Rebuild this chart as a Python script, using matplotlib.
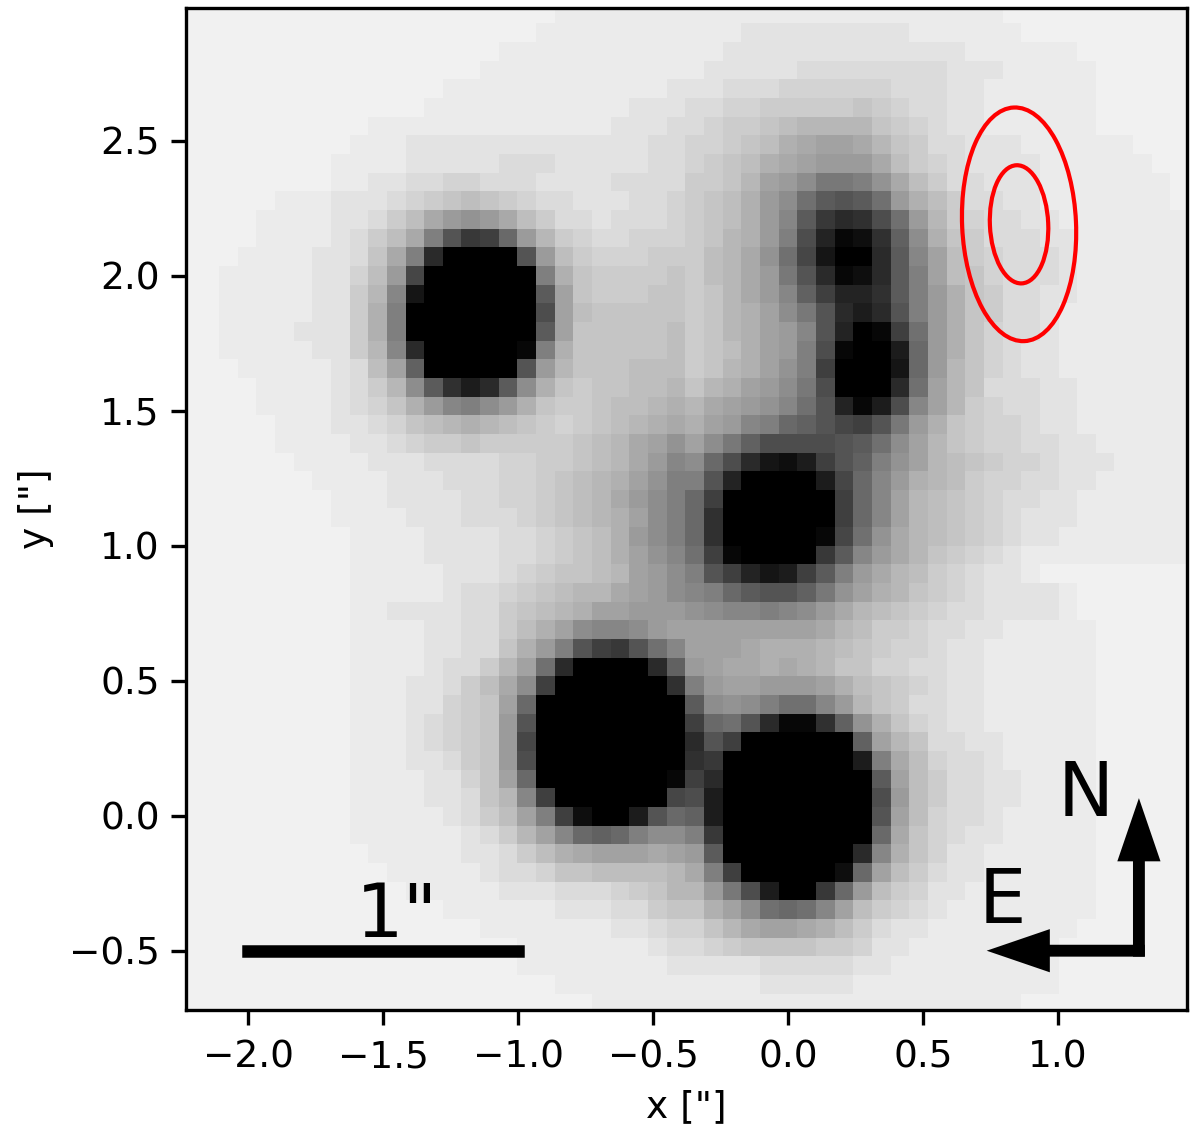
import numpy as np
from matplotlib import pyplot as plt
from matplotlib.patches import Ellipse

plt.rcParams['font.size'] = 9
plt.rcParams['ytick.major.pad'] = 2.8

# image cells, one char per cell, base 36
# cell code -> gray through these knots (light end squeezed a bit)
code_knots = [0, 30, 31, 32, 33, 34, 35]
gray_knots = [0, 211, 219, 228, 235, 241, 245]

left_rows = [
    "yyyyyyyyyyyyyyyyyyyyxxxxxxx",
    "yyyyyyyyyyyyyyyyyyyxxxxxxxx",
    "yyyyyyyyyyyyyyyyyxxxxxxxxxx",
    "yyyyyyyyyyyyyyyyxxxxxxxxxxx",
    "yyyyyyyyyyyyyyxxxxxxxxxxxxw",
    "yyyyyyyyyyyyyxxxxxxxxxxxwww",
    "yyyyyyyyyyxxxxxxxxxxxxxwwwv",
    "yyyyyyyyyxxxwwwwwwwwwwwwwvv",
    "yyyyyyyyxxxxwwwwwvvvwwwwwvv",
    "yyyyyyyyxxwwvvuuvvvwwwwvvvv",
    "yyyyyxxxwwwvutsrstuvvwwwvvu",
    "yyyyxxxxwwvtromlmortvvwvvvu",
    "yyyyxxxxwvtroic89fmqtuvvuuu",
    "yyyxxxxwwvsoi60000cmrtuuutt",
    "yyxxxxxwwurma000000ipstttts",
    "yyxxxxxwwtqj3000000dnstttss",
    "yyxxxxxwwtpi0000000bnrsssss",
    "yyxxxxwwwtpi0000000dnsssssr",
    "yyxxxxxwwtqj6000001ipsssssr",
    "yyyxxxxxwvrne00000cmqsssrrr",
    "yyyyxxxxwvtqkd746dkpstssrrq",
    "yyyyxxxxwvuspmjikmpsttsrrqp",
    "yyyyyxxxwwvusrqpqrstutsrqpo",
    "yyyyyxxxxwwvuttstttttsrqonl",
    "yyyyyyxxxxwwwvvvvuuttsrqomj",
    "yyyyyyyxxxxwwwvvvuutsrqpnli",
    "yyyyyyyyxxxwwwwvvuutsrqomki",
    "yyyyyyyyxxxxwwwvvvutsrqpnki",
    "yyyyyyyyyxxxxwwwwvvutsrpmki",
    "yyyyyyyyyxxxxwwwwvvutsrpnlj",
    "yyyyyyyyyxxxxxwwwvutssrqnmk",
    "yyyyyyyyyxxxxxwvvutsrqqonmk",
    "yyyyyyyyyxxwwwwvvtsrqpnnmmm",
    "yyyyyyyyyxxxxwwvvtrpnkjjkmn",
    "yyyyyyyyyxxxxwwvvspmic98cgj",
    "yyyyyyyyyxxxxwvvtqng600006e",
    "yyyyyyyyyxxxwwvtrok90000007",
    "yyyyyyyyyxxxwwutsnf00000000",
    "yyyyyyyyyxxxwvutsmc00000000",
    "yyyyyyyyyxxxwvutsma00000000",
    "yyyyyyyyyxxxwwvtsmb00000000",
    "yyyyyyyyyxxxxwwusnf00000001",
    "yyyyyyyyyxxxxwwvsqj9000000a",
    "yyyyyyyyyxxxxxwvtrni92004cf",
    "yyyyyyyyyxxxxxxwvtqnjfefikk",
    "yyyyyyyyyyxxxxxwwvtrponnnon",
    "yyyyyyyyyyyxxxxxwvvussrrrrq",
    "yyyyyyyyyyyyxxxxxwwwvvvutsq",
    "yyyyyyyyyyyyyyxxxxxxwwwvvts",
    "yyyyyyyyyyyyyyyyxxxxxxxwwvu",
    "yyyyyyyyyyyyyyyyyyxxxxxxxwv",
    "yyyyyyyyyyyyyyyyyyxxxxxxxxw",
    "yyyyyyyyyyyyyyyyyyyyxxxxxxx",
    "yyyyyyyyyyyyyyyyyyyyyyxxxxx",
]

right_rows = [
    "xxxxxxxxxxxxxxxxxyyyyyyyyyy",
    "xxxwwwwwwwwwxxxxxxyyyyyyyyy",
    "xxwwwwwwwwwwwwwxxxxxxyyyyyy",
    "xwwwwwvvvvvvvvwwwxxxxxyyyyy",
    "wwvvvuuuuuuvvvwwxxxxxxyyyyy",
    "vvuutttttstuvvwwxxxxxxyyyyy",
    "vuttsrqqqqstuvwwxxxxxxyyyyy",
    "uutsrponnoqstvvwwwxxxxxxyyy",
    "utsrponmmmortuvwwwwxxxxxxyy",
    "ttsqnmkhhilortvvwwwxxxxxxxy",
    "tsrpmkgdcdgmprtvvwwxxxxxxxy",
    "tsrpmjd867bgmqtuvvwwxxxxxxx",
    "tsqpmib5127ekpstvvvwwxxxxxx",
    "trqolga3006djnrtuvvvwxxxxxx",
    "trqomhc6126dinrsuvvvwxxxxxx",
    "tsqomje9557dimpstvvwwxxxxxx",
    "tsqpnkhc646cimpstvvwxxxxxxx",
    "tsqpnmjc5019gmpsuvvwxxxxxxx",
    "tsrpnmib1004fmpsuvwwxxxxxxx",
    "tsqpnli90003fmqsuvwwxxxxxxx",
    "sqpnmkhb0006gnqsvvvwwxxxxxx",
    "qonmljgc514bjnqtuvvwwxxxxxx",
    "pnmjifeca9chmpstuuvwwxxxxxx",
    "nkhebbbbcdgknqstuuvvwwxxxxx",
    "kfb63249ceilnqrstuuvwwwxxxx",
    "ic500004afjmpqrtuuvvwwxxxxx",
    "f90000009fjnqrstuvvwwxxxxxx",
    "f70000009fjnqrstuvwwwxxxxxx",
    "f7000001agloqrstuvwwxxxxxxx",
    "g9100008djmoqstuvwxxxxxxxxx",
    "ic95349dimoqrtuvwwxyyyyyyyy",
    "jifdccehlnpqstuvwwwwxyyyyyy",
    "lkjjijkmoqrstuvvwwwwxyyyyyy",
    "nnnnnnnoqrttuvvwwxxxxxyyyyy",
    "nnnopppqrstuuvwwxxxxxxyyyyy",
    "mnoopopqssuuvvwwxxxxxxyyyyy",
    "imnnmmmnprstuvwwxxxxxxyyyyy",
    "dklkiggjmqstvvwwxxxxxxyyyyy",
    "9fgc6117elpsuvwwxxxxxxyyyyy",
    "6c9000000enqsvvwwxxxxxyyyyy",
    "7800000004ioruvvwxxxxxyyyyy",
    "9600000000dnrtvvwwxxxxyyyyy",
    "b400000000bmrtvvwwxxxxyyyyy",
    "e400000000cnruvvwxxxxxyyyyy",
    "i800000000fosuvwwxxxxxyyyyy",
    "md00000006jpsuwwxxxxxxyyyyy",
    "oi9000002fnrtvwwxxxxxxyyyyy",
    "qmhb4008fmrtuwwxxxxxxxyyyyy",
    "spnkgfgjnrtuvwxxxxxxxxyyyyy",
    "usqonnoprtvwwxxxxxxxxyyyyyy",
    "vutssssttuwwxxxxxxxxyyyyyyy",
    "wwwwvvvvvwwxxxxxxxxxyyyyyyy",
    "xxxxwwwwwxxxxxxxxxxxyyyyyyy",
    "xxxxxxxxxxxxxxxxxxyyyyyyyyy",
]

xticks = [-2.0, -1.5, -1.0, -0.5, 0.0, 0.5, 1.0]
yticks = [-0.5, 0.0, 0.5, 1.0, 1.5, 2.0, 2.5]

# contours
contour_centre = (0.856, 2.190)
contour_widths = [0.216, 0.422]
contour_heights = [0.438, 0.866]
contour_tilt = 2.6

codes = np.array([[int(c, 36) for c in (l + r)] for l, r in zip(left_rows, right_rows)])
img = np.interp(codes, code_knots, gray_knots)

fig = plt.figure(figsize=(4, 3.77))
ax = fig.add_axes([186 / 1200, 1 - 1010 / 1131, (1186.7 - 186) / 1200, (1010 - 8.3) / 1131])

ax.imshow(img, cmap='gray', vmin=0, vmax=255, interpolation='nearest',
          extent=[-2.246, 1.485, -0.728, 3.002], aspect='auto')

for w, h in zip(contour_widths, contour_heights):
    ax.add_patch(Ellipse(contour_centre, w, h, angle=contour_tilt, fill=False, edgecolor='red', linewidth=1.0))

# scale bar
ax.plot([-2, -1], [-0.5, -0.5], color='k', linewidth=3)
ax.text(-1.45, -0.448, '1"', fontsize=18, ha='center', va='baseline')

# compass
ax.arrow(1.30, -0.522, 0, 0.587, width=0.044, head_width=0.16, head_length=0.234,
         length_includes_head=True, color='k', linewidth=0)
ax.arrow(1.322, -0.5, -0.586, 0, width=0.044, head_width=0.16, head_length=0.234,
         length_includes_head=True, color='k', linewidth=0)
ax.text(1.104, 0.0, 'N', fontsize=18, ha='center', va='baseline')
ax.text(0.793, -0.396, 'E', fontsize=18, ha='center', va='baseline')

ax.set_xlim(-2.230, 1.477)
ax.set_ylim(-0.7196, 2.990)
ax.set_xticks(xticks)
ax.set_yticks(yticks)
ax.set_xlabel('x ["]', labelpad=3.3)
ax.set_ylabel('y ["]', labelpad=3.6)

plt.savefig('out.png', dpi=300)
